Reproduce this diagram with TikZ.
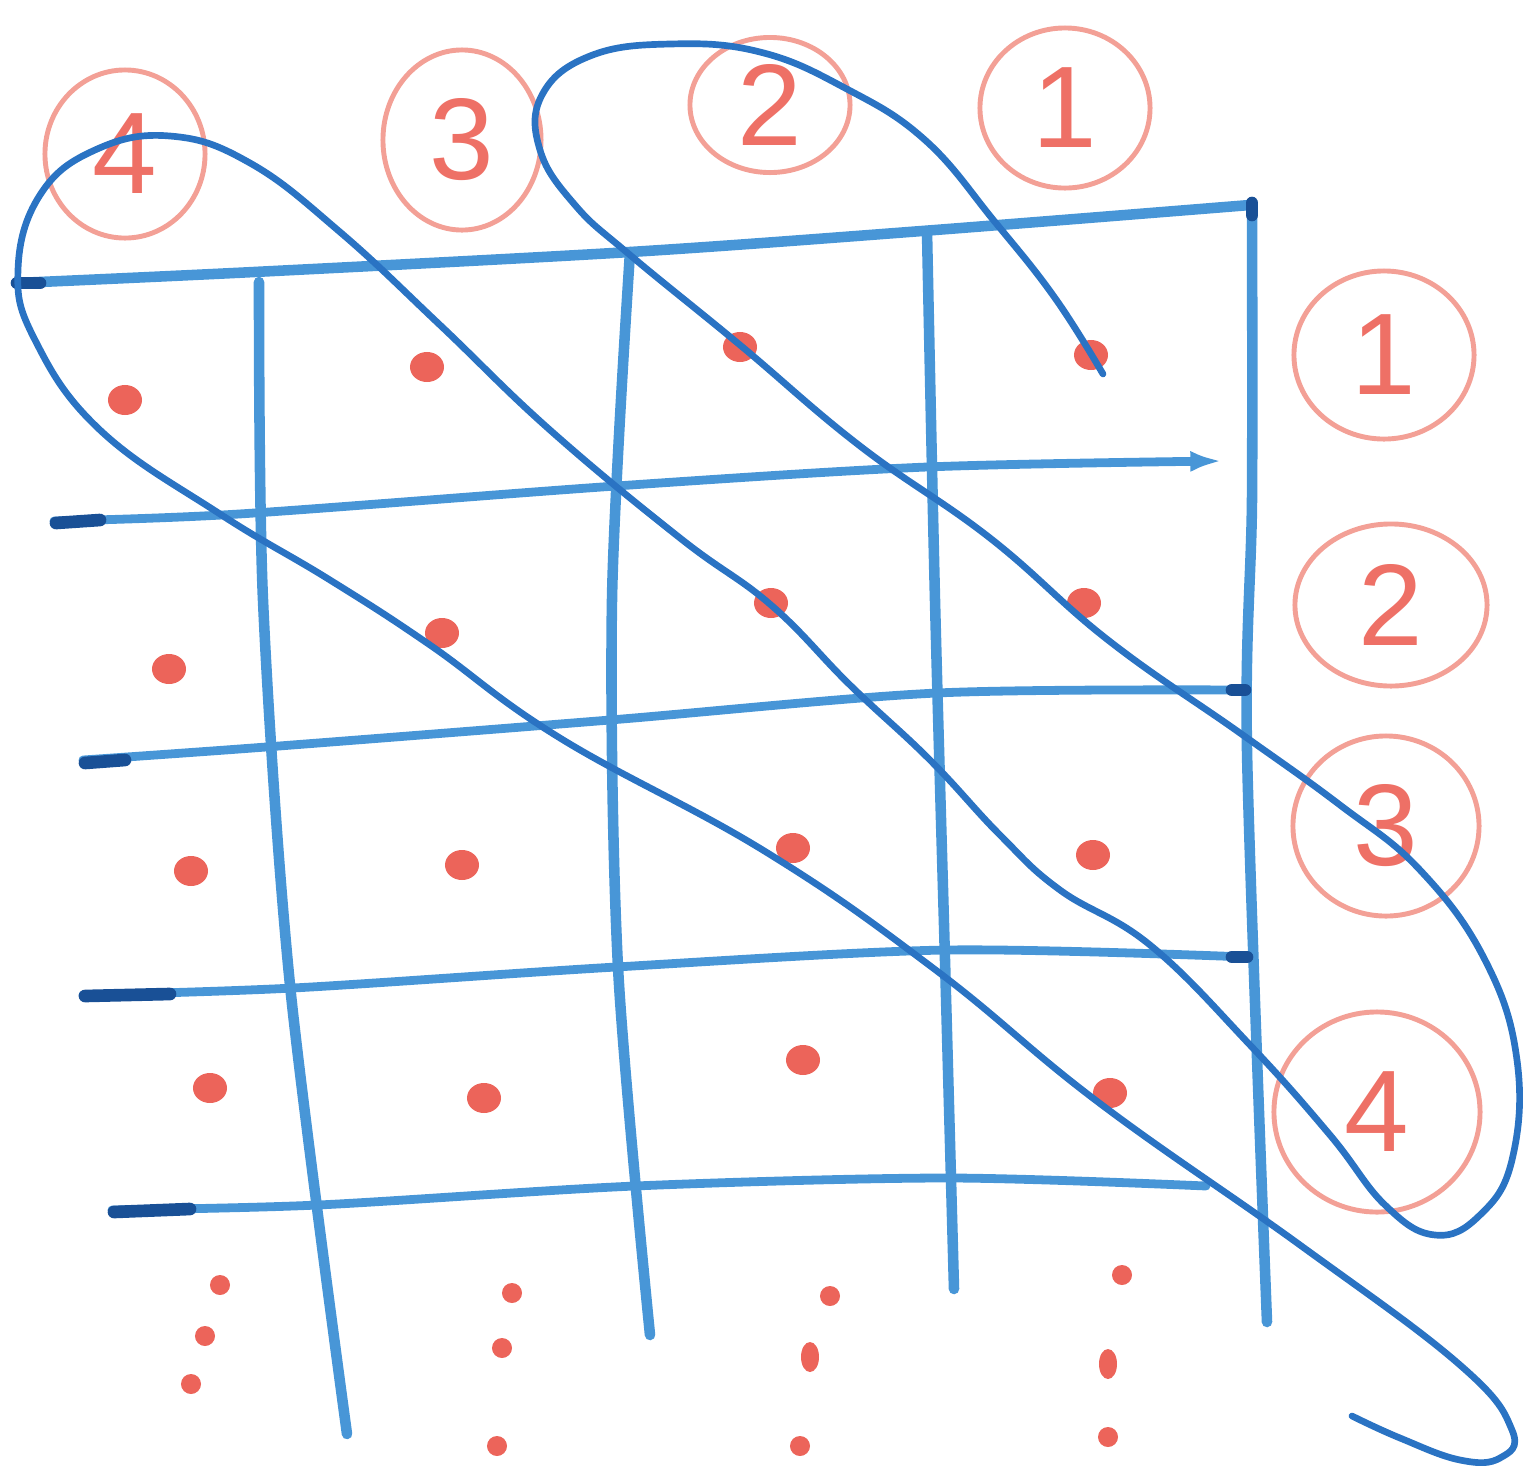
\documentclass[tikz,border=0pt]{standalone}
\usepackage{fontspec}
\setmainfont{Liberation Sans}
\usetikzlibrary{shapes.geometric, arrows.meta}
\definecolor{gridblue}{RGB}{72,150,215}
\definecolor{darkblue}{RGB}{25,80,150}
\definecolor{inkblue}{RGB}{42,115,195}
\definecolor{dotred}{RGB}{236,100,90}
\definecolor{ringred}{RGB}{243,160,150}
\definecolor{digitred}{RGB}{238,112,102}
\tikzset{
  gridline/.style={draw=gridblue, line width=3pt, line cap=round, line join=round},
  hline/.style={draw=gridblue, line width=2.5pt, line cap=round, line join=round},
  darkend/.style={draw=darkblue, line width=3.6pt, line cap=round},
  tour/.style={draw=inkblue, line width=1.9pt, line cap=round, line join=round},
  ring/.style={draw=ringred, line width=1.4pt, ellipse, inner sep=0pt, text=digitred,
    font=\fontsize{33}{33}\selectfont},
  bigdot/.style={fill=dotred, ellipse, inner sep=0pt, minimum width=0.34cm, minimum height=0.3cm},
  smalldot/.style={fill=dotred, circle, inner sep=0pt, minimum size=0.2cm},
  longdot/.style={fill=dotred, ellipse, inner sep=0pt, minimum width=0.18cm, minimum height=0.3cm},
}
\begin{document}
\begin{tikzpicture}[x=0.01cm, y=-0.01cm]
\useasboundingbox (0,0) rectangle (1532,1466);

% circled labels, top (columns)
\node[ring, minimum width=1.6cm, minimum height=1.68cm] (c4) at (125,154) {4};
\node[ring, minimum width=1.58cm, minimum height=1.8cm] (c3) at (462,140) {3};
\node[ring, minimum width=1.6cm, minimum height=1.35cm] (c2) at (770,105) {2};
\node[ring, minimum width=1.7cm, minimum height=1.6cm] (c1) at (1065,108) {1};
% circled labels, right (rows)
\node[ring, minimum width=1.8cm, minimum height=1.68cm] (r1) at (1384,355) {1};
\node[ring, minimum width=1.92cm, minimum height=1.62cm] (r2) at (1391,605) {2};
\node[ring, minimum width=1.86cm, minimum height=1.8cm] (r3) at (1386,826) {3};
\node[ring, minimum width=2.06cm, minimum height=2.0cm] (r4) at (1377,1112) {4};

% dots
\node[bigdot] (d11) at (1091,355) {};
\node[bigdot] (d12) at (740,347) {};
\node[bigdot] (d13) at (427,367) {};
\node[bigdot] (d14) at (125,400) {};
\node[bigdot] (d21) at (1084,603) {};
\node[bigdot] (d22) at (771,603) {};
\node[bigdot] (d23) at (442,633) {};
\node[bigdot] (d24) at (169,669) {};
\node[bigdot] (d31) at (1093,855) {};
\node[bigdot] (d32) at (793,848) {};
\node[bigdot] (d33) at (462,865) {};
\node[bigdot] (d34) at (191,871) {};
\node[bigdot] (d41) at (1110,1093) {};
\node[bigdot] (d42) at (803,1060) {};
\node[bigdot] (d43) at (484,1098) {};
\node[bigdot] (d44) at (210,1088) {};
% continuation dots
\node[smalldot] (e4a) at (220,1285) {};
\node[smalldot] (e4b) at (205,1336) {};
\node[smalldot] (e4c) at (191,1384) {};
\node[smalldot] (e3a) at (512,1293) {};
\node[smalldot] (e3b) at (502,1348) {};
\node[smalldot] (e3c) at (497,1446) {};
\node[smalldot] (e2a) at (830,1296) {};
\node[longdot] (e2b) at (810,1357) {};
\node[smalldot] (e2c) at (800,1446) {};
\node[smalldot] (e1a) at (1122,1275) {};
\node[longdot] (e1b) at (1108,1364) {};
\node[smalldot] (e1c) at (1108,1437) {};

% grid: top line and verticals
\draw[gridline] plot[smooth] coordinates {(17,283) (254,272) (630,252) (922,231) (1250,205)};
\draw[gridline] plot[smooth] coordinates {(259,282) (263,600) (290,985) (347,1434)};
\draw[gridline] plot[smooth] coordinates {(630,252) (612,600) (618,967) (650,1335)};
\draw[gridline] plot[smooth] coordinates {(927,231) (935,600) (945,960) (954,1289)};
\draw[gridline] plot[smooth] coordinates {(1252,203) (1252,500) (1247,750) (1267,1322)};
% horizontals
\draw[hline, -{Latex[length=9pt,width=6pt]}] plot[smooth] coordinates {(54,521) (239,514) (616,486) (927,467) (1222,461)};
\draw[hline] plot[smooth] coordinates {(83,760) (266,747) (610,720) (937,693) (1245,690)};
\draw[hline] plot[smooth] coordinates {(83,995) (293,988) (616,967) (947,950) (1247,957)};
\draw[hline] plot[smooth] coordinates {(112,1210) (318,1205) (635,1186) (947,1178) (1206,1186)};
% dark marker ends
\draw[darkend] (17,283) -- (40,283);
\draw[darkend] (56,523) -- (100,520);
\draw[darkend] (85,763) -- (125,760);
\draw[darkend] (85,996) -- (170,994);
\draw[darkend] (114,1212) -- (190,1209);
\draw[darkend] (1252,203) -- (1252,215);
\draw[darkend] (1245,690) -- (1232,690);
\draw[darkend] (1247,957) -- (1232,957);

% the diagonal tour
\draw[tour] plot[smooth, tension=0.7] coordinates {
 (1103,374) (1055,298) (995,222) (925,140) (845,88) (760,52) (670,44) (590,56)
 (542,95) (540,150) (575,205) (630,255)
 (740,345) (860,446) (990,538) (1108,640) (1240,733) (1340,805)
 (1420,870) (1485,960) (1517,1060) (1512,1160) (1480,1215) (1435,1235)
 (1385,1205) (1330,1135) (1250,1045) (1150,945) (1060,890) (1000,835)
 (930,760) (850,685) (771,605) (680,538) (550,430) (440,325) (340,232)
 (250,163) (170,136) (95,150) (40,195) (18,270) (35,340) (100,430)
 (220,514) (330,580) (430,645) (560,738) (766,852) (937,971) (1098,1102)
 (1300,1245) (1460,1365) (1512,1430) (1500,1458) (1460,1460) (1400,1438) (1352,1416)};
\end{tikzpicture}
\end{document}
